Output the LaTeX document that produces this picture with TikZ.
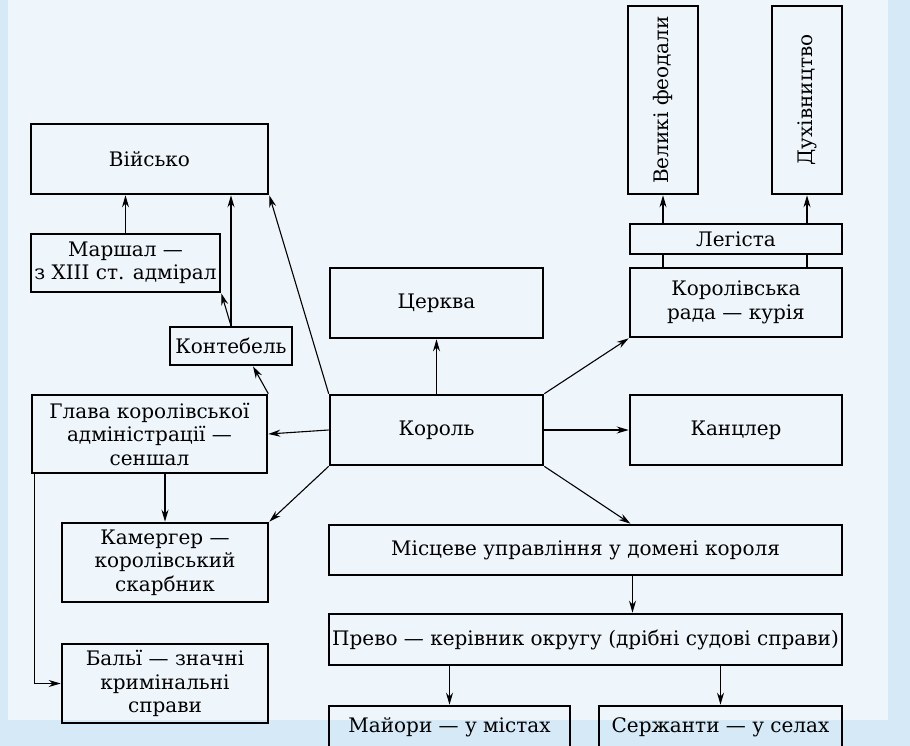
\documentclass[tikz,border=0pt]{standalone}
\usepackage{fontspec}
\setmainfont{DejaVu Serif}
\usetikzlibrary{arrows.meta,calc}
\definecolor{bgblue}{HTML}{D6E9F6}
\definecolor{paleblue}{HTML}{EEF6FC}
\begin{document}
\begin{tikzpicture}[x=1pt,y=-1pt,
  box/.style={draw=black,line width=2.6pt,inner sep=0pt,align=center,
    font=\fontsize{20}{23.5}\selectfont},
  arr/.style={-{Stealth[length=12pt,width=7pt]},line width=1.1pt},
  ln/.style={line width=1.1pt}]
\clip (0,0) rectangle (910,746);
\fill[bgblue] (0,0) rectangle (910,746);
\fill[paleblue] (8,0) rectangle (888,720);
% left column
\node[box,minimum width=237pt,minimum height=70pt] (viysko) at (149.5,159) {Військо};
\node[box,minimum width=189pt,minimum height=58pt] (marshal) at (125.5,263) {Маршал —\\з XIII ст. адмірал};
\node[box,minimum width=122pt,minimum height=38pt] (kont) at (231,346) {Контебель};
\node[box,minimum width=235pt,minimum height=78pt] (glava) at (149.5,434) {Глава королівської\\адміністрації —\\сеншал};
\node[box,minimum width=206pt,minimum height=79pt] (kamer) at (165,562.5) {Камергер —\\королівський\\скарбник};
\node[box,minimum width=206pt,minimum height=79pt] (baly) at (165,683.5) {Бальї — значні\\кримінальні\\справи};
% centre
\node[box,minimum width=213pt,minimum height=70pt] (church) at (436.5,303) {Церква};
\node[box,minimum width=213pt,minimum height=70pt] (korol) at (436.5,430) {Король};
% right
\node[box,minimum width=70pt,minimum height=188pt] (feod) at (663,100) {\rotatebox{90}{Великі феодали}};
\node[box,minimum width=70pt,minimum height=188pt] (duh) at (807,100) {\rotatebox{90}{Духівництво}};
\node[box,minimum width=212pt,minimum height=30pt] (leg) at (736,239) {Легіста};
\node[box,minimum width=212pt,minimum height=69pt] (rada) at (736,302.5) {Королівська\\рада — курія};
\node[box,minimum width=212pt,minimum height=70pt] (kanc) at (736,430) {Канцлер};
% bottom
\node[box,minimum width=513pt,minimum height=50pt] (misc) at (585.5,550) {Місцеве управління у домені короля};
\node[box,minimum width=513pt,minimum height=51pt] (prevo) at (585.5,639.5) {Прево — керівник округу (дрібні судові справи)};
\node[box,minimum width=241pt,minimum height=42pt] (may) at (449.5,727) {Майори — у містах};
\node[box,minimum width=243pt,minimum height=42pt] (serzh) at (720.5,727) {Сержанти — у селах};
% connectors
\draw[arr] (marshal.north) -- (marshal.north |- viysko.south);
\draw[arr] (kont.north) -- (kont.north |- viysko.south);
\draw[arr] (kont.north) -- (marshal.south east);
\draw[arr] (korol.north west) -- (viysko.south east);
\draw[arr] (glava.north east) -- ([xshift=22pt]kont.south);
\draw[arr] (korol.west) -- (glava.east);
\draw[arr] (korol.south west) -- (kamer.north east);
\draw[arr] (kamer.north |- glava.south) -- (kamer.north);
\draw[arr] ([xshift=4pt]glava.south west) |- (baly.west);
\draw[arr] (korol.north) -- (church.south);
\draw[arr] (korol.north east) -- (rada.south west);
\draw[arr] (korol.east) -- (kanc.west);
\draw[arr] (korol.south east) -- ([xshift=45pt]misc.north);
\draw[arr] ([xshift=47pt]misc.south) -- ([xshift=47pt]prevo.north);
\draw[arr] (may.north |- prevo.south) -- (may.north);
\draw[arr] (serzh.north |- prevo.south) -- (serzh.north);
\draw[ln] (feod.south |- rada.north) -- (feod.south |- leg.south);
\draw[ln] (duh.south |- rada.north) -- (duh.south |- leg.south);
\draw[arr] (feod.south |- leg.north) -- (feod.south);
\draw[arr] (duh.south |- leg.north) -- (duh.south);
\end{tikzpicture}
\end{document}
